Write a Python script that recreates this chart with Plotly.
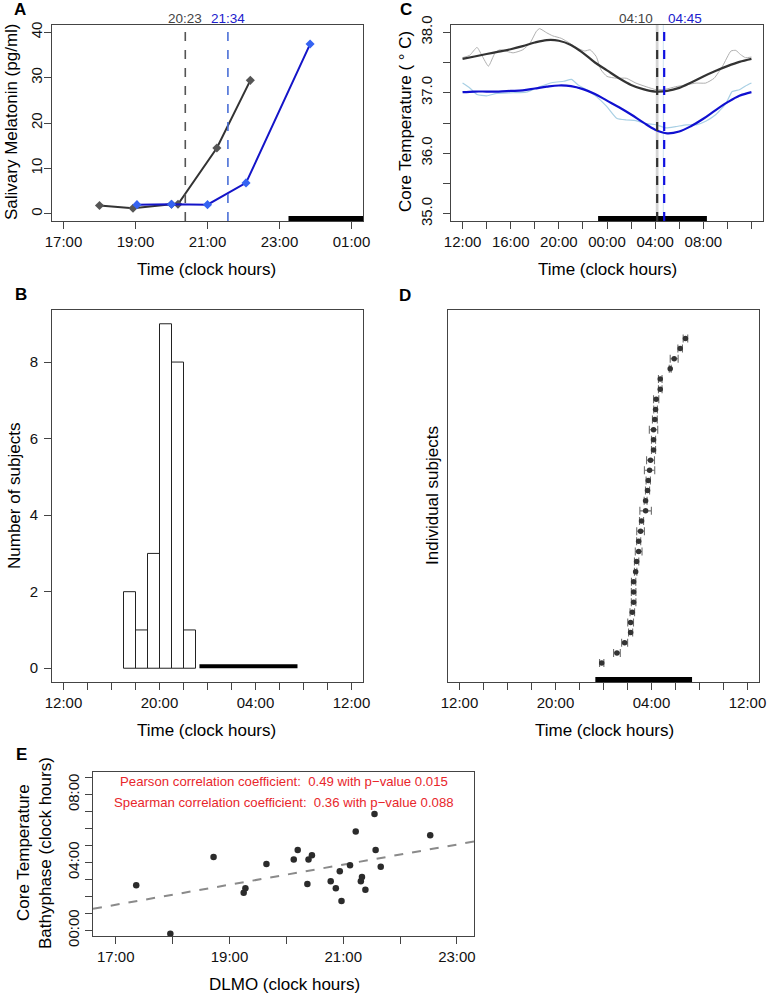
import numpy as np
import plotly.graph_objects as go

W, H = 770, 994
FONT = "Liberation Sans, Arial, Helvetica, sans-serif"


def px(x):
    return x / W


def py(y):
    return 1 - y / H


# ---------------- Panel A: salivary melatonin ----------------
mel_time_black = [18.0, 18.93, 20.0, 20.18, 21.26, 22.19]
mel_black = [1.8, 1.2, 2.1, 2.1, 14.5, 29.4]
mel_time_blue = [19.04, 20.0, 21.0, 22.07, 23.85]
mel_blue = [2.0, 2.1, 2.0, 6.8, 37.4]
dlmo_times = [20.383, 21.567]
dlmo_labels = ["20:23", "21:34"]
sleep_A_x = [23.25, 25.6]
sleep_A_y = [-1.05, -1.05]
A_tickvals = [17, 19, 21, 23, 25]
A_ticktext = ["17:00", "19:00", "21:00", "23:00", "01:00"]
A_ytick = [0, 10, 20, 30, 40]

# ---------------- Panel C: core temperature ----------------
fit_hours = list(range(12, 37))
fit_black = [37.56, 37.60, 37.64, 37.68, 37.72, 37.77, 37.83, 37.87, 37.86, 37.79,
             37.66, 37.50, 37.37, 37.24, 37.13, 37.06, 37.02, 37.03, 37.08, 37.17,
             37.27, 37.36, 37.44, 37.51, 37.56]
fit_blue = [37.01, 37.02, 37.02, 37.02, 37.03, 37.04, 37.07, 37.10, 37.12, 37.11,
            37.06, 36.98, 36.87, 36.76, 36.64, 36.51, 36.39, 36.33, 36.36, 36.45,
            36.57, 36.71, 36.84, 36.95, 37.01]
raw_gray_h = [12.0, 12.6, 13.2, 13.6, 14.15, 14.7, 15.1, 16.2, 17.0, 17.6, 18.15, 18.4,
              19.0, 19.5, 20.2, 20.9, 21.5, 22.15, 22.6, 23.1, 23.5, 24.0, 24.8, 25.6,
              26.4, 27.25, 28.1, 28.9, 29.7, 30.6, 31.4, 32.2, 32.9, 33.6, 34.3, 34.7,
              35.1, 35.5, 36.0]
raw_gray = [37.58, 37.62, 37.75, 37.62, 37.44, 37.66, 37.71, 37.66, 37.71, 37.82, 38.02, 38.06,
            37.99, 37.94, 37.90, 37.82, 37.74, 37.69, 37.71, 37.60, 37.38, 37.27, 37.24, 37.24,
            37.16, 37.10, 37.05, 37.06, 37.10, 37.13, 37.16, 37.16, 37.24, 37.44, 37.69, 37.70,
            37.63, 37.58, 37.59]
raw_lblue_h = [12.0, 12.6, 13.2, 14.0, 14.85, 16.2, 17.3, 18.4, 19.5, 20.4, 21.05, 21.6,
               22.3, 23.1, 23.95, 24.8, 25.6, 26.4, 27.25, 28.1, 28.9, 29.7, 30.6, 31.4,
               32.2, 33.05, 33.9, 34.4, 35.0, 35.5, 36.0]
raw_lblue = [37.16, 37.08, 36.97, 36.95, 36.99, 37.00, 37.01, 37.10, 37.17, 37.19, 37.22, 37.13,
             37.05, 36.94, 36.78, 36.58, 36.55, 36.54, 36.49, 36.47, 36.42, 36.44, 36.47, 36.47,
             36.53, 36.64, 36.83, 37.02, 37.05, 37.11, 37.16]
bathy_times = [28.167, 28.75]
bathy_labels = ["04:10", "04:45"]
bathy_ci_lo = [28.05, 28.64]
bathy_ci_hi = [28.28, 28.70]
sleep_C_x = [23.26, 32.3]
sleep_C_y = [34.92, 34.92]
C_tickvals = list(range(12, 37, 2))
C_ticktext = ["12:00", "", "16:00", "", "20:00", "", "00:00", "", "04:00", "", "08:00", "", "12:00"]
C_ytickvals = [35.0, 35.5, 36.0, 36.5, 37.0, 37.5, 38.0]
C_yticktext = ["35.0", "", "36.0", "", "37.0", "", "38.0"]

# ---------------- Panel B: DLMO histogram ----------------
hist_centers = [17.5, 18.5, 19.5, 20.5, 21.5, 22.5]
hist_counts = [2, 1, 3, 9, 8, 1]
sleep_B_x = [23.33, 31.5]
sleep_B_y = [0.05, 0.05]
BD_tickvals = list(range(12, 37, 2))
BD_ticktext = ["12:00", "", "", "", "20:00", "", "", "", "04:00", "", "", "", "12:00"]
B_ytick = [0, 2, 4, 6, 8]

# ---------------- Panel D: individual bathyphases ----------------
subj_bathy = [23.85, 25.12, 25.76, 26.26, 26.26, 26.40, 26.51, 26.51, 26.51, 26.68, 26.76,
              26.93, 26.93, 27.09, 27.17, 27.51, 27.51, 27.67, 27.73, 27.84, 27.92, 28.17,
              28.17, 28.17, 28.28, 28.34, 28.39, 28.73, 28.73, 29.56, 29.89, 30.39, 30.83]
subj_err = [0.18, 0.28, 0.25, 0.17, 0.24, 0.19, 0.19, 0.19, 0.18, 0.10, 0.18,
            0.28, 0.17, 0.32, 0.17, 0.48, 0.12, 0.17, 0.18, 0.43, 0.33, 0.17,
            0.17, 0.35, 0.20, 0.15, 0.22, 0.15, 0.15, 0.08, 0.33, 0.19, 0.19]
subj_idx = list(range(1, len(subj_bathy) + 1))
sleep_D_x = [23.32, 31.38]
sleep_D_y = [-0.62, -0.62]

# ---------------- Panel E: DLMO vs bathyphase ----------------
dlmo_subj = [17.36, 17.96, 18.72, 19.25, 19.28, 19.65, 20.13, 20.20, 20.39, 20.45, 20.37, 20.78,
             20.87, 20.94, 20.97, 21.12, 21.22, 21.31, 21.33, 21.39, 21.55, 21.57, 21.66, 22.53]
bathy_subj = [2.66, -0.20, 4.33, 2.22, 2.48, 3.91, 4.17, 4.74, 4.17, 4.42, 2.74, 2.90,
              2.48, 3.49, 1.73, 3.83, 5.83, 2.90, 3.15, 2.40, 6.85, 4.74, 3.75, 5.60]
E_xrange = [16.6, 23.3]
E_xtickvals = [17, 18, 19, 20, 21, 22, 23]
E_xticktext = ["17:00", "", "19:00", "", "21:00", "", "23:00"]
E_ytickvals = list(range(0, 10))
E_yticktext = ["00:00", "", "", "", "04:00", "", "", "", "08:00", ""]
stats_text = ["Pearson correlation coefficient:  0.49 with p\u2212value 0.015",
              "Spearman correlation coefficient:  0.36 with p\u2212value 0.088"]

fig = go.Figure()

# A traces
fig.add_trace(go.Scatter(x=mel_time_black, y=mel_black, mode="lines+markers",
                         line=dict(color="#333333", width=2),
                         marker=dict(symbol="diamond", size=7, color="#555555"),
                         xaxis="x", yaxis="y"))
fig.add_trace(go.Scatter(x=mel_time_blue, y=mel_blue, mode="lines+markers",
                         line=dict(color="#1414c8", width=2),
                         marker=dict(symbol="diamond", size=7, color="#3563f2"),
                         xaxis="x", yaxis="y"))
fig.add_trace(go.Scatter(x=sleep_A_x, y=sleep_A_y, mode="lines",
                         line=dict(color="black", width=5), xaxis="x", yaxis="y"))

# C traces
fig.add_trace(go.Scatter(x=raw_gray_h, y=raw_gray, mode="lines",
                         line=dict(color="#b0b0b0", width=1, shape="spline", smoothing=0.5),
                         xaxis="x2", yaxis="y2"))
fig.add_trace(go.Scatter(x=raw_lblue_h, y=raw_lblue, mode="lines",
                         line=dict(color="#a9d0e4", width=1.2, shape="spline", smoothing=0.5),
                         xaxis="x2", yaxis="y2"))
fig.add_trace(go.Scatter(x=fit_hours, y=fit_black, mode="lines", line=dict(color="#333333", width=2.2, shape="spline"),
                         xaxis="x2", yaxis="y2"))
fig.add_trace(go.Scatter(x=fit_hours, y=fit_blue, mode="lines", line=dict(color="#1010d0", width=2.2, shape="spline"),
                         xaxis="x2", yaxis="y2"))
fig.add_trace(go.Scatter(x=sleep_C_x, y=sleep_C_y, mode="lines",
                         line=dict(color="black", width=5), xaxis="x2", yaxis="y2"))

# B traces
fig.add_trace(go.Bar(x=hist_centers, y=hist_counts, width=1,
                     marker=dict(color="white", line=dict(color="#222222", width=1)),
                     xaxis="x3", yaxis="y3"))
fig.add_trace(go.Scatter(x=sleep_B_x, y=sleep_B_y, mode="lines",
                         line=dict(color="black", width=4), xaxis="x3", yaxis="y3"))

# D traces
fig.add_trace(go.Scatter(x=sleep_D_x, y=sleep_D_y, mode="lines",
                         line=dict(color="black", width=5), xaxis="x4", yaxis="y4"))
fig.add_trace(go.Scatter(x=subj_bathy, y=subj_idx, mode="markers",
                         marker=dict(size=5.5, color="#333333"),
                         error_x=dict(type="data", array=subj_err, color="#6f6f6f", thickness=1.1, width=4),
                         xaxis="x4", yaxis="y4"))

# E traces
slope, intercept = np.polyfit(dlmo_subj, bathy_subj, 1)
reg_x = np.array(E_xrange)
fig.add_trace(go.Scatter(x=reg_x, y=intercept + slope * reg_x, mode="lines",
                         line=dict(color="#8a8a8a", width=2, dash="dash"), xaxis="x5", yaxis="y5"))
fig.add_trace(go.Scatter(x=dlmo_subj, y=bathy_subj, mode="markers",
                         marker=dict(size=6.5, color="#2b2b2b"), xaxis="x5", yaxis="y5"))


def ax(**kw):
    d = dict(showline=True, linecolor="#444444", linewidth=1, mirror=True, ticks="outside",
             ticklen=7, tickcolor="#444444", showgrid=False, zeroline=False, automargin=False,
             tickfont=dict(size=15, color="#111111", family=FONT))
    d.update(kw)
    return d


A_dom_x = [px(52), px(363)]
A_dom_y = [py(221), py(25)]
C_dom_x = [px(451), px(763)]
B_dom_x = [px(52), px(363)]
B_dom_y = [py(682), py(310)]
D_dom_x = [px(448), px(759)]
E_dom_x = [px(93), px(474)]
E_dom_y = [py(936), py(772)]

fig.update_layout(
    template="none",
    width=W, height=H, margin=dict(l=0, r=0, t=0, b=0, pad=0), autosize=False,
    plot_bgcolor="white", paper_bgcolor="white", showlegend=False,
    font=dict(family=FONT, size=14, color="black"),
    xaxis=ax(domain=A_dom_x, anchor="y", range=[16.68, 25.32], tickvals=A_tickvals, ticktext=A_ticktext),
    yaxis=ax(domain=A_dom_y, anchor="x", range=[-1.6, 41.6], tickvals=A_ytick, tickangle=-90,
             ticklabelstandoff=-4),
    xaxis2=ax(domain=C_dom_x, anchor="y2", range=[11.04, 36.96], tickvals=C_tickvals, ticktext=C_ticktext),
    yaxis2=ax(domain=A_dom_y, anchor="x2", range=[34.88, 38.12], tickvals=C_ytickvals, ticktext=C_yticktext,
              tickangle=-90, ticklabelstandoff=5),
    xaxis3=ax(domain=B_dom_x, anchor="y3", range=[11.04, 36.96], tickvals=BD_tickvals, ticktext=BD_ticktext),
    yaxis3=ax(domain=B_dom_y, anchor="x3", range=[-0.36, 9.36], tickvals=B_ytick, ticklabelstandoff=3),
    xaxis4=ax(domain=D_dom_x, anchor="y4", range=[11.04, 36.96], tickvals=BD_tickvals, ticktext=BD_ticktext),
    yaxis4=ax(domain=B_dom_y, anchor="x4", range=[-0.87, 35.8], ticks="", showticklabels=False),
    xaxis5=ax(domain=E_dom_x, anchor="y5", range=E_xrange, tickvals=E_xtickvals, ticktext=E_xticktext),
    yaxis5=ax(domain=E_dom_y, anchor="x5", range=[-0.33, 9.33], tickvals=E_ytickvals, ticktext=E_yticktext,
              tickangle=-90),
    bargap=0,
)

shapes = []
for t, c in zip(dlmo_times, ["#555555", "#4a6fd6"]):
    shapes.append(dict(type="line", xref="x", yref="y domain", x0=t, x1=t, y0=0, y1=1,
                       line=dict(color=c, width=1.6, dash="dash")))
for lo, hi, c in zip(bathy_ci_lo, bathy_ci_hi, ["#d4d4d4", "#b9d7ec"]):
    shapes.append(dict(type="rect", xref="x2", yref="y2 domain", x0=lo, x1=hi, y0=0, y1=1,
                       fillcolor=c, line=dict(width=0), layer="below"))
for t, c in zip(bathy_times, ["#333333", "#1010e0"]):
    shapes.append(dict(type="line", xref="x2", yref="y2 domain", x0=t, x1=t, y0=0, y1=1,
                       line=dict(color=c, width=2.2, dash="dash")))
fig.update_layout(shapes=shapes)

ann = []


def text(x, y, s, size=17, color="black", angle=0, bold=False, xanchor="center", xref="paper"):
    ann.append(dict(x=x, y=py(y), xref=xref, yref="paper", text=("<b>%s</b>" % s) if bold else s,
                    showarrow=False, textangle=angle, xanchor=xanchor, yanchor="middle",
                    font=dict(size=size, color=color, family=FONT)))


text(px(20), 10, "A", size=17, bold=True)
text(px(406), 10, "C", size=17, bold=True)
text(px(21), 294, "B", size=17, bold=True)
text(px(405), 296, "D", size=17, bold=True)
text(px(21), 754, "E", size=17, bold=True)

text(dlmo_times[0], 18, dlmo_labels[0], size=13.5, color="#444444", xref="x")
text(dlmo_times[1], 18, dlmo_labels[1], size=13.5, color="#2020cc", xref="x")
text(px(11), 122, "Salivary Melatonin (pg/ml)", angle=-90)
text(px(207), 269, "Time (clock hours)")

text(bathy_times[0] - 0.15, 18, bathy_labels[0], size=13.5, color="#444444", xref="x2", xanchor="right")
text(bathy_times[1] + 0.15, 18, bathy_labels[1], size=13.5, color="#2020cc", xref="x2", xanchor="left")
text(px(405), 122, "Core Temperature ( \u00b0 C)", angle=-90)
text(px(607), 269, "Time (clock hours)")

text(px(15), 496, "Number of subjects", angle=-90)
text(px(207), 730, "Time (clock hours)")
text(px(433), 496, "Individual subjects", angle=-90)
text(px(604), 730, "Time (clock hours)")

text(px(23), 853, "Core Temperature", angle=-90)
text(px(45), 853, "Bathyphase (clock hours)", angle=-90)
text(px(284), 984, "DLMO (clock hours)")
text(px(284), 781, stats_text[0], size=13.2, color="#e8262b")
text(px(284), 802, stats_text[1], size=13.2, color="#e8262b")

fig.update_layout(annotations=ann)
# remove the default page margin so the 770x994 figure fills the window exactly
fig.write_html("out.html", config={"displayModeBar": False, "staticPlot": True},
               post_script="document.body.style.margin='0';document.body.style.overflow='hidden';")
